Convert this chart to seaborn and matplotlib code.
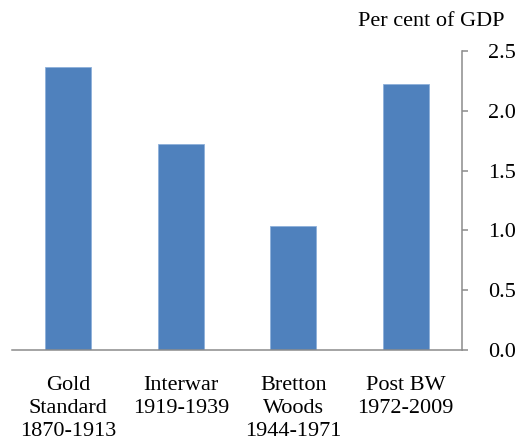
import matplotlib
matplotlib.use("Agg")
import matplotlib.pyplot as plt
import seaborn as sns
import pandas as pd

# Average current account imbalances by monetary regime
regimes = ["Gold\nStandard\n1870-1913", "Interwar\n1919-1939",
           "Bretton\nWoods\n1944-1971", "Post BW\n1972-2009"]
values = [2.37, 1.72, 1.04, 2.22]
y_ticks = [0.0, 0.5, 1.0, 1.5, 2.0, 2.5]

df = pd.DataFrame({"regime": regimes, "value": values})

sns.set_style("white")
plt.rcParams["font.family"] = ["Liberation Serif", "DejaVu Serif"]

fig = plt.figure(figsize=(5.18, 4.43), dpi=100)
ax = fig.add_axes([12 / 518, 1 - 350 / 443, (462 - 12) / 518, (350 - 51) / 443])

sns.barplot(data=df, x="regime", y="value", color="#4F81BD", saturation=1,
            width=0.41, edgecolor="#8DB0DA", linewidth=0.6, ax=ax)

axis_col = "#8C8C8C"
fs = 16
ax.set_xlim(-0.5, 3.5)
ax.set_ylim(0, 2.5)
ax.set_xlabel("")
ax.set_ylabel("")

for side in ("top", "left"):
    ax.spines[side].set_visible(False)
for side in ("bottom", "right"):
    ax.spines[side].set_color(axis_col)
    ax.spines[side].set_linewidth(1.1)

ax.set_yticks(y_ticks)
ax.set_yticklabels([f"{t:.1f}" for t in y_ticks])
ax.tick_params(axis="y", which="major", left=False, labelleft=False,
               right=True, labelright=True, direction="out", length=4.5,
               width=1.1, color=axis_col, pad=14.5, labelsize=fs,
               labelcolor="black")

ax.tick_params(axis="x", which="major", length=0, pad=19, labelsize=fs,
               labelcolor="black")
for lab in ax.get_xticklabels():
    lab.set_linespacing(1.28)
ax.set_xticks([-0.5], minor=True)
ax.tick_params(axis="x", which="minor", direction="out", length=4.5, width=1.1,
               color=axis_col)

fig.text(358 / 518, 1 - 22 / 443, "Per cent of GDP", fontsize=fs,
         ha="left", va="center", color="black")

fig.savefig("out.png", dpi=100)
